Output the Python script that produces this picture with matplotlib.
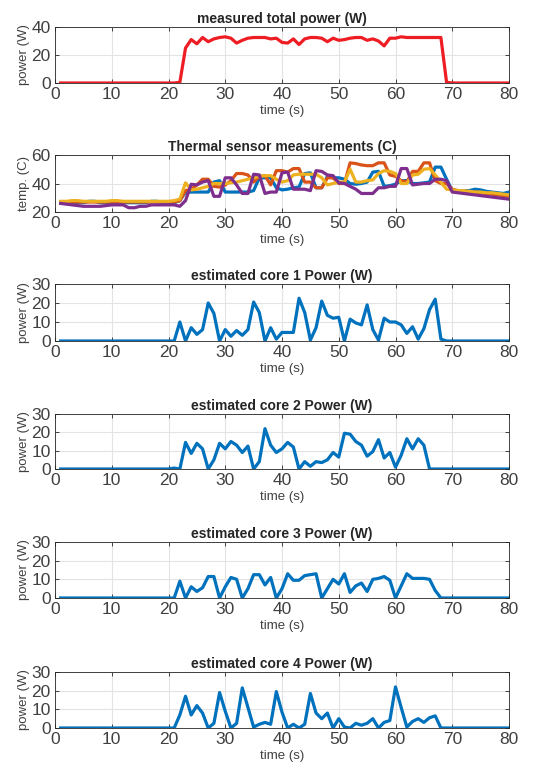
import matplotlib
matplotlib.use("Agg")
import matplotlib.pyplot as plt
import numpy as np

plt.rcParams['font.family'] = ['Liberation Sans', 'DejaVu Sans']

t = list(range(1, 81))

zeros21 = [0]*21

total_power = zeros21 + [0.5, 25, 31, 28, 32.5, 29.5, 31.5, 32.5, 33, 32,
                         28.5, 30.5, 32, 32.5, 32.5, 32.5, 31.5, 32, 29, 28.5,
                         31.5, 27.5, 31.5, 32.5, 32.5, 32, 29.5, 32, 30.5, 31,
                         32, 32.5, 32.5, 30.5, 31.5, 30, 26.5, 32, 32, 33,
                         32.5, 32.5, 32.5, 32.5, 32.5, 32.5, 32.5, 0.5] + [0]*11

temp_blue = [26.5, 26.5, 26.5, 26.5, 26.5, 27.5, 27.5, 26.5, 26.5, 26.5,
             26.5, 26.5, 26.5, 26.5, 26.5, 26.5, 27.5, 27.5, 26.5, 26.5,
             26.5, 28, 34, 34, 34, 34, 34, 41, 42, 34,
             34, 34, 34, 34, 35, 44, 44, 44, 37, 35.5,
             36, 37, 37.5, 47, 47.5, 37, 37, 45, 44, 44,
             43, 40, 39.5, 40, 41, 48, 48.5, 38, 38.5, 39.5,
             42, 42, 40, 40, 40.5, 41, 51.5, 51.5, 43, 35,
             35, 35, 35, 36, 35.5, 34.5, 34, 33.5, 33, 34]
temp_orange = [27, 27, 27, 27, 27, 27, 27, 27, 27, 27,
               27, 27, 27, 27, 27, 27, 27, 27, 27, 27,
               27, 28, 35, 36, 39, 43, 43, 38, 37.5, 39,
               42, 47, 47, 46, 41, 45, 45.5, 39, 49, 49,
               48, 50.5, 50.5, 41, 41, 37, 37, 44, 44, 40,
               40, 54.5, 54, 53, 52.5, 52.5, 54.5, 54.5, 46, 45,
               42, 41, 48.5, 48.5, 54.5, 54.5, 42, 40, 40, 36,
               35, 34.5, 34, 34, 33.5, 33, 32.5, 32, 31.5, 31]
temp_yellow = [27.5, 27.5, 28, 28, 27.5, 27.5, 27.5, 27.5, 27.5, 28,
               28, 27.5, 27.5, 27.5, 27.5, 27.5, 27.5, 27.5, 27.5, 27.5,
               28, 29, 40.5, 35.5, 36, 37, 38, 40, 40, 40,
               40.5, 41, 42, 43, 44, 45, 45.5, 45.5, 43, 41,
               42, 46, 46.5, 46.5, 46.5, 46.5, 44, 39, 40, 41,
               41, 50, 41, 41, 42, 42.5, 47, 49, 48.5, 47,
               40, 40, 46, 46.5, 50, 50.5, 46, 41, 36, 35.5,
               35, 35, 34.5, 34, 34, 33.5, 33.5, 33, 32.5, 32]
temp_purple = [26, 25.5, 25, 24.5, 24, 24, 24, 24, 24.5, 25,
               25, 25, 23, 23, 24, 24, 25, 25, 25, 25,
               25, 24, 28, 39.5, 39, 41, 42, 31, 31, 44,
               44, 39, 33, 33, 46.5, 46, 33, 34, 34, 47.5,
               48, 36, 36, 36, 35, 49, 48.5, 46, 45.5, 40.5,
               40, 38, 36, 33, 33, 33, 37, 37, 38, 38,
               50.5, 50.5, 39, 39.5, 40, 40, 43, 43, 42, 34,
               33.5, 33, 32.5, 32, 31.5, 31, 30.5, 30, 29.5, 29]

core1 = zeros21 + [10, 0, 7, 3.5, 6, 20, 14.5, 0, 6, 2.5,
                   5.5, 3, 6, 20.5, 15, 0, 7, 1, 4.5, 4.5,
                   4.5, 22.5, 15, 0.5, 7, 21, 13.5, 12, 12.5, 0,
                   11.5, 9.5, 8.5, 19, 6, 0.5, 12, 10, 10, 8.5,
                   4, 7.5, 1, 6.5, 16.5, 22, 1, 0] + [0]*11
core2 = [0]*20 + [0.5, 0, 14.5, 8.5, 14, 11, 0, 5, 14, 11,
                  15, 13, 9, 12.5, 0, 4, 22, 13, 9, 11,
                  14.5, 12, 0, 4, 1.5, 4, 3.5, 5, 9, 6.5,
                  19.5, 19, 15, 13, 7, 9.5, 16, 6, 9, 1,
                  7.5, 16.5, 11, 16.5, 13, 0] + [0]*14
core3 = zeros21 + [9, 0, 6, 3.5, 5.5, 11.5, 11.5, 0, 6, 11,
                   10, 0, 5, 12.5, 12.5, 7, 11, 0, 5, 13,
                   9.5, 9.5, 12, 12.5, 13, 0, 5, 10, 7.5, 13,
                   3, 6.5, 8, 3.5, 10, 10.5, 11.5, 9.5, 0, 6.5,
                   13, 10.5, 10.5, 10.5, 10, 4, 0] + [0]*12
core4 = zeros21 + [7, 17, 7, 12, 8, 0, 2.5, 19, 9, 0,
                   2.5, 21.5, 11, 0.5, 2, 3, 2, 19.5, 8.5, 0,
                   2, 0, 2, 18.5, 8, 5, 8, 0, 5, 0.5,
                   0, 2.5, 1.5, 2.5, 5, 0, 3, 4, 22, 11,
                   0.5, 3.5, 5, 3, 5.5, 6.5, 0] + [0]*12

titles = ["measured total power (W)", "Thermal sensor measurements (C)",
          "estimated core 1 Power (W)", "estimated core 2 Power (W)",
          "estimated core 3 Power (W)", "estimated core 4 Power (W)"]
ylabels = ["power (W)", "temp. (C)", "power (W)", "power (W)", "power (W)", "power (W)"]
xticks = [0, 10, 20, 30, 40, 50, 60, 70, 80]

BLUE = '#0072BD'
ORANGE = '#D95319'
YELLOW = '#EDB120'
PURPLE = '#7E2F8E'
RED = '#EE1D23'
TXT = '#404040'

fig = plt.figure(figsize=(5.37, 7.75), dpi=100)

# (top_px, bottom_px)
rows = [(27, 83), (155, 212), (284, 341), (414, 469), (542, 598), (672, 728)]
left = 55/537
width = (509-55)/537
axes = []
for (tp, bp) in rows:
    ax = fig.add_axes([left, 1 - bp/775, width, (bp - tp)/775])
    axes.append(ax)

lw = 2.3
axes[0].plot(t, total_power, color=RED, lw=lw)
axes[0].set_ylim(0, 40)
axes[0].set_yticks([0, 20, 40])

for s, c in zip([temp_blue, temp_orange, temp_yellow, temp_purple],
                [BLUE, ORANGE, YELLOW, PURPLE]):
    axes[1].plot(t, s, color=c, lw=lw)
axes[1].set_ylim(20, 60)
axes[1].set_yticks([20, 40, 60])

for ax, s in zip(axes[2:], [core1, core2, core3, core4]):
    ax.plot(t, s, color=BLUE, lw=lw)
    ax.set_ylim(0, 30)
    ax.set_yticks([0, 10, 20, 30])

for ax, ti, yl in zip(axes, titles, ylabels):
    ax.set_xlim(0, 80)
    ax.set_xticks(xticks)
    ax.grid(True, color='#e3e3e3', lw=0.8)
    ax.set_axisbelow(True)
    ax.set_title(ti, fontsize=10, fontweight='bold', color='#262626', pad=3)
    ax.set_ylabel(yl, fontsize=9.5, color=TXT, labelpad=1)
    ax.set_xlabel("time (s)", fontsize=9.5, color=TXT, labelpad=2)
    ax.tick_params(direction='in', length=3, width=0.6, labelsize=12.5,
                   colors='#262626', labelcolor=TXT, top=True, right=True, pad=3)
    for sp in ax.spines.values():
        sp.set_color('#262626')
        sp.set_linewidth(0.6)

fig.savefig("out.png", dpi=100)
